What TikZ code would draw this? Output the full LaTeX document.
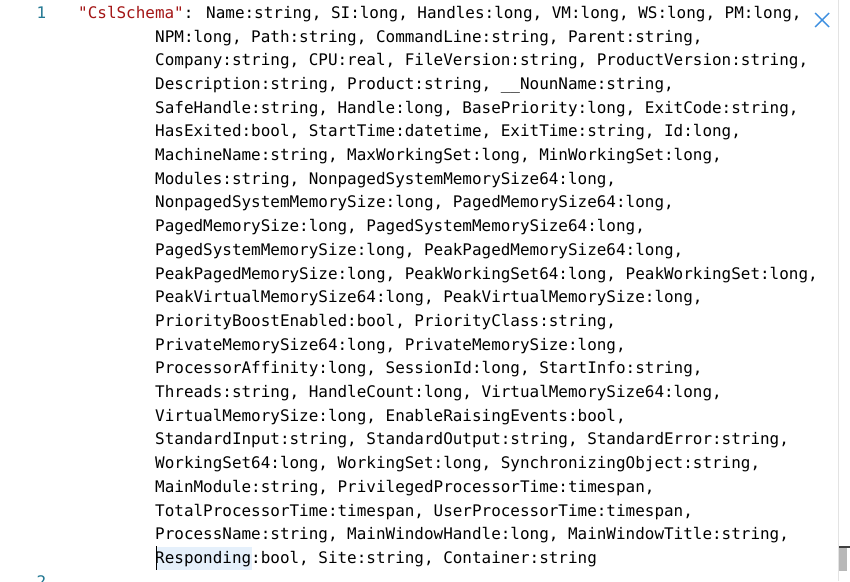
\documentclass[tikz,border=0pt]{standalone}
\usepackage{fontspec}
\newfontfamily\codefont{DejaVu Sans Mono}
\definecolor{strred}{HTML}{A31515}
\definecolor{lineno}{HTML}{237893}
\definecolor{closeblue}{HTML}{3D8FE0}
\definecolor{selblue}{HTML}{E5F0FB}
\definecolor{rulergray}{HTML}{E3E3E3}
\definecolor{thumbgray}{HTML}{B8B8B8}
\tikzset{
	code/.style={anchor=base west, inner sep=0pt, font=\codefont\fontsize{15.95}{23.7}\selectfont},
	num/.style={code, text=lineno}
}
\begin{document}
\begin{tikzpicture}[x=1pt,y=-1pt]
		\fill [white] (0,0) rectangle (850,581);
		\useasboundingbox (0,0) rectangle (850,581);
		% selection and cursor
		\fill [selblue] (157,547) rectangle (252,570);
		% line numbers
		\node [num] (n1) at (36.3,18.3) {1};
		\node [num] (n2) at (36.3,587.5) {2};
		% code lines
		\node [code] (l1) at (78,18.3) {{\color{strred}"CslSchema"}: Name:string, SI:long, Handles:long, VM:long, WS:long, PM:long,};
		\node [code] (l2) at (155,42) {NPM:long, Path:string, CommandLine:string, Parent:string,};
		\node [code] (l3) at (155,65.7) {Company:string, CPU:real, FileVersion:string, ProductVersion:string,};
		\node [code] (l4) at (155,89.4) {Description:string, Product:string, \_\_NounName:string,};
		\node [code] (l5) at (155,113.1) {SafeHandle:string, Handle:long, BasePriority:long, ExitCode:string,};
		\node [code] (l6) at (155,136.8) {HasExited:bool, StartTime:datetime, ExitTime:string, Id:long,};
		\node [code] (l7) at (155,160.5) {MachineName:string, MaxWorkingSet:long, MinWorkingSet:long,};
		\node [code] (l8) at (155,184.2) {Modules:string, NonpagedSystemMemorySize64:long,};
		\node [code] (l9) at (155,207.9) {NonpagedSystemMemorySize:long, PagedMemorySize64:long,};
		\node [code] (l10) at (155,231.6) {PagedMemorySize:long, PagedSystemMemorySize64:long,};
		\node [code] (l11) at (155,255.3) {PagedSystemMemorySize:long, PeakPagedMemorySize64:long,};
		\node [code] (l12) at (155,279) {PeakPagedMemorySize:long, PeakWorkingSet64:long, PeakWorkingSet:long,};
		\node [code] (l13) at (155,302.7) {PeakVirtualMemorySize64:long, PeakVirtualMemorySize:long,};
		\node [code] (l14) at (155,326.4) {PriorityBoostEnabled:bool, PriorityClass:string,};
		\node [code] (l15) at (155,350.1) {PrivateMemorySize64:long, PrivateMemorySize:long,};
		\node [code] (l16) at (155,373.8) {ProcessorAffinity:long, SessionId:long, StartInfo:string,};
		\node [code] (l17) at (155,397.5) {Threads:string, HandleCount:long, VirtualMemorySize64:long,};
		\node [code] (l18) at (155,421.2) {VirtualMemorySize:long, EnableRaisingEvents:bool,};
		\node [code] (l19) at (155,444.9) {StandardInput:string, StandardOutput:string, StandardError:string,};
		\node [code] (l20) at (155,468.6) {WorkingSet64:long, WorkingSet:long, SynchronizingObject:string,};
		\node [code] (l21) at (155,492.3) {MainModule:string, PrivilegedProcessorTime:timespan,};
		\node [code] (l22) at (155,516) {TotalProcessorTime:timespan, UserProcessorTime:timespan,};
		\node [code] (l23) at (155,539.7) {ProcessName:string, MainWindowHandle:long, MainWindowTitle:string,};
		\node [code] (l24) at (155,563.4) {Responding:bool, Site:string, Container:string};
		\draw [line width=1.6pt] (156.3,546) -- (156.3,570);
		% close button
		\draw [closeblue, line width=1.4pt] (815,13) -- (829,27) (815,27) -- (829,13);
		% right edge and scrollbar
		\draw [rulergray, line width=1pt] (838.5,0) -- (838.5,581);
		\fill [thumbgray] (839,548) rectangle (847,571);
		\draw [black!75, line width=2pt] (839,547) -- (850,547);
	\end{tikzpicture}
\end{document}
